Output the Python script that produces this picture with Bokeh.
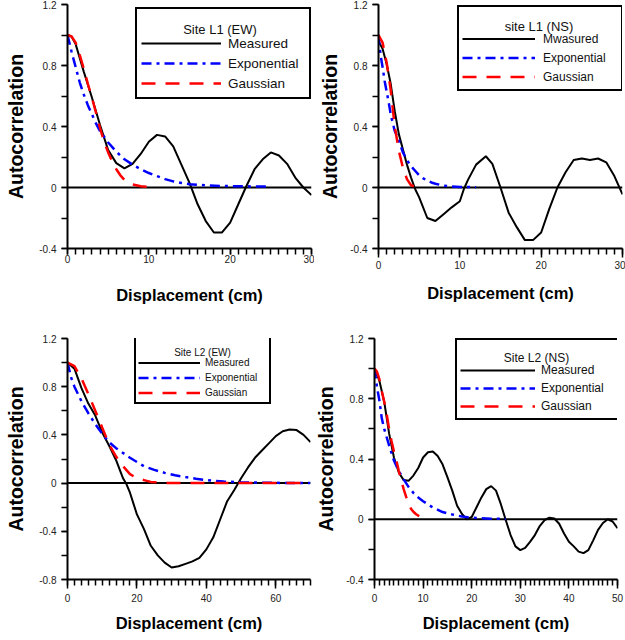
from bokeh.plotting import figure
from bokeh.models import Range1d, FixedTicker, Legend, LegendItem, Label, Span
from bokeh.layouts import column, row
from bokeh.embed import file_html
from bokeh.resources import INLINE

# ---------------- data ----------------
# Panel 1: Site L1 (EW)
l1ew_meas_x = [0, 0.5, 1, 2, 3, 4, 5, 6, 7, 8, 9, 10, 11, 12, 13, 14, 15, 16, 17, 18, 19, 20, 21, 22, 23, 24, 25, 26, 27, 28, 29, 30]
l1ew_meas_y = [1.0, 0.99, 0.94, 0.76, 0.59, 0.41, 0.245, 0.16, 0.125, 0.155, 0.22, 0.30, 0.345, 0.335, 0.27, 0.15, 0.03, -0.11, -0.22, -0.295, -0.295, -0.23, -0.11, 0.01, 0.12, 0.185, 0.23, 0.21, 0.155, 0.065, 0.0, -0.05]
l1ew_exp_x = [0, 0.5, 1, 1.5, 2, 2.5, 3, 3.5, 4, 5, 6, 7, 8, 9, 10, 11, 12, 13, 14, 15, 17, 19, 21, 23, 25]
l1ew_exp_y = [1.0, 0.89, 0.79, 0.69, 0.61, 0.54, 0.48, 0.42, 0.37, 0.295, 0.235, 0.185, 0.15, 0.12, 0.095, 0.075, 0.055, 0.04, 0.03, 0.022, 0.014, 0.01, 0.008, 0.007, 0.006]
l1ew_gau_x = [0, 0.5, 1, 1.5, 2, 2.5, 3, 3.5, 4, 4.5, 5, 5.5, 6, 6.5, 7, 8, 9, 10]
l1ew_gau_y = [1.0, 0.99, 0.95, 0.87, 0.78, 0.68, 0.59, 0.49, 0.39, 0.30, 0.23, 0.17, 0.12, 0.08, 0.05, 0.02, 0.008, 0.003]

# Panel 2: site L1 (NS)
l1ns_meas_x = [0, 0.5, 1, 1.5, 2, 2.5, 3, 3.5, 4, 4.5, 5, 6, 7, 8, 9, 10, 10.5, 11, 12, 13.2, 14, 15, 16, 17, 18, 19, 20, 21, 22, 23, 24, 25, 26, 27, 28, 29, 30]
l1ns_meas_y = [0.96, 0.91, 0.81, 0.68, 0.50, 0.35, 0.25, 0.15, 0.065, -0.01, -0.065, -0.2, -0.22, -0.175, -0.13, -0.09, -0.01, 0.05, 0.15, 0.205, 0.155, 0.0, -0.165, -0.26, -0.345, -0.345, -0.295, -0.14, 0.0, 0.1, 0.18, 0.19, 0.18, 0.19, 0.165, 0.075, -0.045]
l1ns_exp_x = [0, 0.25, 0.5, 0.75, 1, 1.25, 1.5, 2, 2.5, 3, 3.5, 4, 4.5, 5, 5.5, 6, 6.5, 7, 8, 9, 10, 11, 12]
l1ns_exp_y = [1.0, 0.87, 0.79, 0.70, 0.63, 0.56, 0.48, 0.37, 0.31, 0.23, 0.18, 0.14, 0.11, 0.08, 0.06, 0.045, 0.033, 0.025, 0.012, 0.006, 0.004, 0.003, 0.002]
l1ns_gau_x = [0, 0.5, 1, 1.5, 2, 2.5, 3, 3.5, 4, 4.5]
l1ns_gau_y = [1.0, 0.95, 0.82, 0.64, 0.40, 0.24, 0.13, 0.055, 0.015, 0.005]

# Panel 3: Site L2 (EW)
l2ew_meas_x = [0, 2, 4, 6, 8, 10, 12, 14, 16, 17, 18, 19, 20, 22, 24, 26, 28, 30, 32, 34, 36, 38, 40, 42, 44, 46, 48, 50, 52, 54, 56, 58, 60, 62, 64, 66, 68, 70]
l2ew_meas_y = [1.0, 0.95, 0.79, 0.66, 0.56, 0.42, 0.31, 0.19, 0.04, -0.01, -0.08, -0.17, -0.26, -0.38, -0.52, -0.6, -0.66, -0.7, -0.69, -0.67, -0.65, -0.62, -0.55, -0.45, -0.3, -0.15, -0.06, 0.04, 0.13, 0.21, 0.27, 0.33, 0.39, 0.43, 0.445, 0.44, 0.4, 0.34]
l2ew_exp_x = [0, 1, 2, 4, 6, 8, 10, 12, 14, 16, 18, 20, 22, 25, 28, 31, 34, 37, 40, 45, 50, 55, 60, 65, 70]
l2ew_exp_y = [1.0, 0.88, 0.8, 0.68, 0.58, 0.49, 0.41, 0.34, 0.29, 0.25, 0.21, 0.175, 0.14, 0.11, 0.085, 0.065, 0.05, 0.037, 0.025, 0.013, 0.007, 0.004, 0.002, 0.001, 0.0]
l2ew_gau_x = [0, 2, 4, 6, 8, 10, 12, 14, 16, 18, 20, 22, 24, 27, 30, 35, 40, 45, 50, 55, 60, 65, 70]
l2ew_gau_y = [1.0, 0.97, 0.87, 0.74, 0.6, 0.46, 0.32, 0.22, 0.14, 0.075, 0.04, 0.025, 0.01, 0.003, 0.0, 0.0, 0.0, 0.0, 0.0, 0.0, 0.0, 0.0, 0.0]

# Panel 4: Site L2 (NS)
l2ns_meas_x = list(range(0, 51))
l2ns_meas_y = [1.0, 0.92, 0.78, 0.57, 0.41, 0.31, 0.26, 0.255, 0.29, 0.34, 0.41, 0.445, 0.45, 0.42, 0.365, 0.28, 0.19, 0.09, 0.035, 0.0, 0.015, 0.08, 0.145, 0.2, 0.22, 0.19, 0.1, -0.005, -0.105, -0.18, -0.205, -0.19, -0.15, -0.105, -0.045, -0.005, 0.01, 0.005, -0.03, -0.095, -0.15, -0.18, -0.215, -0.225, -0.205, -0.14, -0.07, -0.025, 0.0, -0.015, -0.06]
l2ns_exp_x = [0, 0.5, 1, 1.5, 2, 3, 4, 5, 6, 7, 8, 9, 10, 12, 14, 16, 18, 20, 22, 24, 27]
l2ns_exp_y = [1.0, 0.88, 0.79, 0.67, 0.6, 0.49, 0.39, 0.32, 0.265, 0.215, 0.175, 0.145, 0.12, 0.078, 0.048, 0.032, 0.018, 0.01, 0.006, 0.004, 0.002]
l2ns_gau_x = [0, 0.5, 1, 1.5, 2, 2.5, 3, 3.5, 4, 4.5, 5, 5.5, 6, 6.5, 7, 7.5, 8, 8.5, 9.2]
l2ns_gau_y = [1.0, 0.98, 0.93, 0.85, 0.78, 0.7, 0.6, 0.52, 0.45, 0.39, 0.32, 0.26, 0.2, 0.15, 0.11, 0.07, 0.05, 0.035, 0.02]

# ticks and labels
x_ticks_30 = [0, 10, 20, 30]
x_minor_30 = list(range(0, 31))
x_ticks_70 = [0, 20, 40, 60]
x_minor_70 = list(range(0, 71, 2))
x_ticks_50 = [0, 10, 20, 30, 40, 50]
x_minor_50 = list(range(0, 51))
y_ticks_a = [-0.4, 0, 0.4, 0.8, 1.2]
y_labels_a = ["-0.4", "0", "0.4", "0.8", "1.2"]
y_ticks_b = [-0.8, -0.4, 0, 0.4, 0.8, 1.2]
y_labels_b = ["-0.8", "-0.4", "0", "0.4", "0.8", "1.2"]
y_minor_a = [-0.4, -0.2, 0, 0.2, 0.4, 0.6, 0.8, 1.0, 1.2]
y_minor_b = [-0.8, -0.6] + y_minor_a

series_names_a = ["Measured", "Exponential", "Gaussian"]
series_names_b = ["Mwasured", "Exponential", "Gaussian"]

FONT = "Liberation Sans"


def make_panel(cfg):
    W, H = cfg["size"]
    bl, br, bt, bb = cfg["borders"]
    fw, fh = W - bl - br, H - bt - bb
    p = figure(width=W, height=H, output_backend="svg", toolbar_location=None,
               x_range=Range1d(*cfg["xr"]), y_range=Range1d(*cfg["yr"]),
               min_border_left=bl, min_border_right=br, min_border_top=bt, min_border_bottom=bb,
               background_fill_color="white", border_fill_color="white")
    p.outline_line_color = None
    p.xgrid.visible = False
    p.ygrid.visible = False

    p.add_layout(Span(location=0, dimension="width", line_color="black", line_width=2, level="underlay"))

    r_m = p.line(cfg["mx"], cfg["my"], line_color="black", line_width=2)
    r_e = p.line(cfg["ex"], cfg["ey"], line_color="#0000ff", line_width=2.5, line_dash="10 5 3 5")
    r_g = p.line(cfg["gx"], cfg["gy"], line_color="#ff0000", line_width=2.5, line_dash="14 10")
    r_t = p.line([], [], line_color="white", line_alpha=0)  # spacer row for the legend heading

    xa = p.xaxis[0]
    xa.ticker = FixedTicker(ticks=cfg["xt"], minor_ticks=cfg["xm"])
    xa.axis_label = "Displacement (cm)"
    xa.axis_label_text_font = FONT
    xa.axis_label_text_font_style = "bold"
    xa.axis_label_text_font_size = "16.5px"
    xa.axis_label_text_color = "black"
    xa.axis_label_standoff = cfg["xls"]
    xa.major_label_text_font = FONT
    xa.major_label_text_font_size = "10px"
    xa.major_label_text_color = "#222222"
    xa.major_label_standoff = cfg["xms"]
    xa.axis_line_width = 2
    xa.major_tick_line_width = 1.5
    xa.minor_tick_line_width = 1.5
    xa.major_tick_out = cfg["xto"]
    xa.major_tick_in = 0
    xa.minor_tick_out = 6
    xa.minor_tick_in = 0

    ya = p.yaxis[0]
    ya.ticker = FixedTicker(ticks=cfg["yt"], minor_ticks=cfg["ym"])
    ya.major_label_overrides = {(0 if v == 0 else v): s for v, s in zip(cfg["yt"], cfg["yl"])}
    ya.axis_label = "Autocorrelation"
    ya.axis_label_text_font = FONT
    ya.axis_label_text_font_style = "bold"
    ya.axis_label_text_font_size = "19.5px"
    ya.axis_label_text_color = "black"
    ya.axis_label_standoff = cfg["yls"]
    ya.major_label_text_font = FONT
    ya.major_label_text_font_size = "10px"
    ya.major_label_text_color = "#222222"
    ya.major_label_standoff = 5
    ya.axis_line_width = 2
    ya.major_tick_line_width = 1.5
    ya.minor_tick_line_width = 1.5
    ya.major_tick_out = 6
    ya.major_tick_in = 0
    ya.minor_tick_out = 6
    ya.minor_tick_in = 0

    lg = cfg["legend"]
    n_rows = 4
    leg_h = 2 * lg["pad"] + n_rows * lg["row"]
    items = [LegendItem(label="\u00a0", renderers=[r_t])]
    items += [LegendItem(label=n, renderers=[r]) for n, r in zip(cfg["names"], [r_m, r_e, r_g])]
    legend = Legend(
        items=items,
        location=(lg["dx"], fh - lg["dy"] - leg_h),
        label_text_font=FONT, label_text_font_size=lg["fs"], label_text_color="#111111",
        label_standoff=lg["ls"], label_width=lg["lw"], label_height=lg["row"],
        glyph_width=lg["gw"], glyph_height=lg["row"], spacing=0, padding=lg["pad"], margin=0,
        border_line_color="black", border_line_width=2, border_line_alpha=1,
        background_fill_color="white", background_fill_alpha=0,
    )
    p.add_layout(legend)
    p.add_layout(Label(x=lg["tx"], y=lg["ty"], x_units="screen", y_units="screen",
                       text=cfg["title"], text_font=FONT, text_font_size=lg["tfs"],
                       text_color="#111111", text_align="center", text_baseline="middle"))
    return p


p1 = make_panel(dict(size=(314, 320), borders=(67, 3, 4, 72), xr=(0, 30), yr=(-0.4, 1.2),
                     mx=l1ew_meas_x, my=l1ew_meas_y, ex=l1ew_exp_x, ey=l1ew_exp_y, gx=l1ew_gau_x, gy=l1ew_gau_y,
                     xt=x_ticks_30, xm=x_minor_30, yt=y_ticks_a, yl=y_labels_a, ym=y_minor_a,
                     xls=20, xms=0, xto=6, yls=9, names=series_names_a, title="Site L1 (EW)",
                     legend=dict(dx=68, dy=7, fs="13.5px", ls=7, lw=77, row=20, gw=80, pad=4,
                                 tx=152.5, ty=219.5, tfs="13px")))
p2 = make_panel(dict(size=(311, 320), borders=(64, 3, 4, 72), xr=(0, 30), yr=(-0.4, 1.2),
                     mx=l1ns_meas_x, my=l1ns_meas_y, ex=l1ns_exp_x, ey=l1ns_exp_y, gx=l1ns_gau_x, gy=l1ns_gau_y,
                     xt=x_ticks_30, xm=x_minor_30, yt=y_ticks_a, yl=y_labels_a, ym=y_minor_a,
                     xls=12, xms=3, xto=9, yls=6, names=series_names_b, title="site L1 (NS)",
                     legend=dict(dx=79, dy=5, fs="12px", ls=8, lw=75, row=19, gw=73, pad=3,
                                 tx=160.5, ty=222, tfs="13px")))
p3 = make_panel(dict(size=(312, 320), borders=(67, 2, 18, 61), xr=(0, 70), yr=(-0.8, 1.2),
                     mx=l2ew_meas_x, my=l2ew_meas_y, ex=l2ew_exp_x, ey=l2ew_exp_y, gx=l2ew_gau_x, gy=l2ew_gau_y,
                     xt=x_ticks_70, xm=x_minor_70, yt=y_ticks_b, yl=y_labels_b, ym=y_minor_b,
                     xls=9, xms=5, xto=9, yls=9, names=series_names_a, title="Site L2 (EW)",
                     legend=dict(dx=67, dy=2.3, fs="10px", ls=5, lw=62, row=15, gw=62, pad=2,
                                 tx=135, ty=226.7, tfs="10px")))
p4 = make_panel(dict(size=(313, 320), borders=(61, 8, 16, 61), xr=(0, 50), yr=(-0.4, 1.2),
                     mx=l2ns_meas_x, my=l2ns_meas_y, ex=l2ns_exp_x, ey=l2ns_exp_y, gx=l2ns_gau_x, gy=l2ns_gau_y,
                     xt=x_ticks_50, xm=x_minor_50, yt=y_ticks_a, yl=y_labels_a, ym=y_minor_a,
                     xls=9, xms=5, xto=9, yls=6, names=series_names_a, title="Site L2 (NS)",
                     legend=dict(dx=81, dy=6, fs="12px", ls=6, lw=77, row=18, gw=75, pad=3,
                                 tx=162, ty=222, tfs="12px")))

layout = column(row(p1, p2), row(p3, p4))
open("out.html", "w").write(file_html(layout, INLINE))
